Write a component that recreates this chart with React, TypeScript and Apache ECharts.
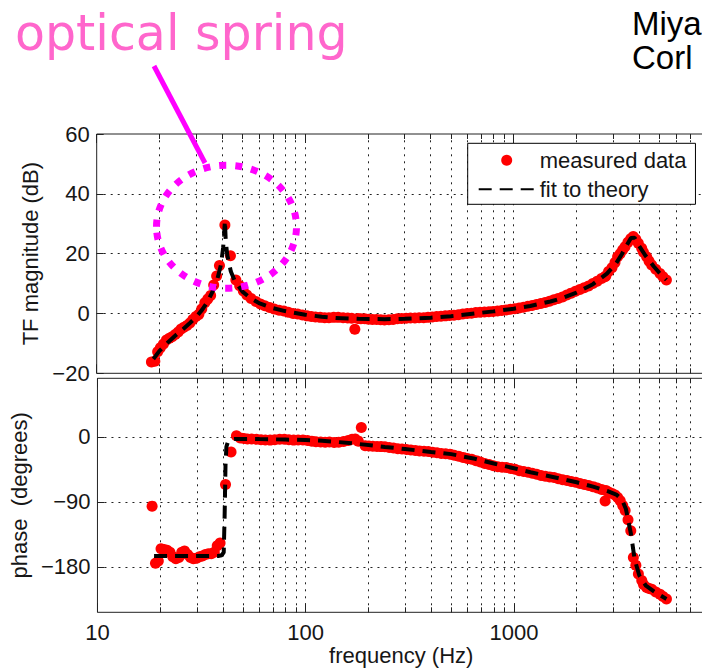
import React, { useEffect, useRef } from "react";
import * as echarts from "echarts";

// ---------------- data ----------------
const freqHz = [
  18.3, 19.0, 19.6, 20.2, 20.9, 21.6, 22.3, 23.0, 23.8, 24.6,
  25.4, 26.2, 27.1, 28.0, 28.9, 29.9, 30.9, 31.9, 33.0, 34.1,
  35.2, 36.4, 37.6, 38.8, 41.2, 43.8, 46.5, 48.5, 50.5, 52.5,
  55.0, 58.0, 61.0, 64.0, 67.5, 71.0, 75.0, 79.0, 83.0, 87.5,
  92, 97, 102, 107, 112, 118, 124, 130, 137, 144,
  152, 160, 167, 173, 179, 185, 193, 201, 210, 220,
  230, 240, 252, 264, 277, 290, 305, 320, 336, 352,
  370, 388, 407, 427, 448, 470, 493, 517, 543, 570,
  598, 627, 658, 690, 724, 760, 797, 836, 877, 920,
  965, 1012, 1062, 1114, 1169, 1226, 1286, 1349, 1415, 1485,
  1558, 1634, 1714, 1798, 1886, 1979, 2076, 2178, 2285, 2397,
  2514, 2637, 2740, 2766, 2850, 2960, 3060, 3150, 3240, 3330,
  3420, 3530, 3640, 3745, 3850, 3960, 4110, 4190, 4340, 4460,
  4590, 4800, 5030, 5200, 5400,
];
const magDb = [
  -16.2, -16.0, -12.8, -11.5, -10.2, -8.9, -8.3, -7.8, -7.0, -6.2,
  -5.2, -4.6, -4.0, -3.2, -2.0, -1.0, -0.3, 1.5, 3.6, 4.8,
  6.0, 9.5, 12.5, 16.0, 29.6, 19.3, 11.2, 9.3, 7.5, 6.2,
  5.0, 4.0, 3.2, 2.6, 2.0, 1.5, 1.1, 0.8, 0.4, 0.0,
  -0.2, -0.5, -0.8, -1.0, -1.2, -1.3, -1.4, -1.4, -1.3, -1.3,
  -1.4, -1.5, -1.6, -5.3, -1.7, -1.8, -1.8, -1.9, -2.0, -2.0,
  -2.1, -2.2, -2.1, -2.0, -1.8, -1.7, -1.6, -1.5, -1.5, -1.4,
  -1.4, -1.3, -1.2, -1.0, -0.9, -0.8, -0.7, -0.6, -0.4, -0.2,
  0.0, 0.1, 0.3, 0.4, 0.5, 0.6, 0.7, 0.8, 1.0, 1.2,
  1.4, 1.6, 1.8, 2.1, 2.4, 2.7, 3.0, 3.3, 3.7, 4.1,
  4.6, 5.0, 5.5, 6.2, 6.8, 7.4, 8.0, 8.6, 9.2, 10.0,
  10.8, 11.7, 12.3, 12.5, 14.0, 15.3, 17.0, 19.0, 20.0, 21.2,
  22.3, 23.8, 25.0, 25.7, 24.8, 23.5, 21.8, 20.5, 19.0, 17.5,
  16.2, 14.8, 13.4, 12.3, 11.2,
];
const phaseDeg = [
  -96, -175, -172, -155, -156, -157, -160, -166, -169, -167,
  -160, -158, -163, -167, -169, -168, -166, -165, -163, -162,
  -162, -160, -151, -147, -66, -21, 1.5, -1.5, -2.5, -3,
  -3.2, -3.5, -4.0, -4.5, -4.6, -4.0, -3.5, -3.5, -4.0, -4.6,
  -4.5, -4.5, -5.0, -6.0, -6.9, -7.2, -7.5, -7.3, -7.8, -7.5,
  -6.5, -5.0, -3.5, -3.2, -6.0, 12.9, -12.5, -12.8, -13.0, -13.5,
  -13.6, -13.8, -14.8, -15.5, -16.5, -17.0, -17.5, -18.2, -19.0, -19.5,
  -20.0, -20.5, -21.5, -22.0, -23.0, -23.5, -24.0, -25.5, -27.0, -28.5,
  -30.0, -31.0, -33.0, -35.0, -37.0, -38.5, -40.0, -41.5, -42.0, -42.5,
  -44.0, -45.0, -47.0, -48.0, -49.0, -50.5, -52.0, -53.5, -54.5, -55.5,
  -56.5, -58.0, -59.5, -60.5, -62.0, -63.0, -64.6, -66.0, -67.5, -69.0,
  -71.0, -73.0, -89.0, -74.5, -76.5, -78.5, -80.5, -84.0, -88.6, -95.0,
  -102, -115, -130, -167, -178, -190, -199, -204.5, -208.6, -210,
  -211, -215, -218, -221, -224.5,
];
const fitFreqHz = [
  18.7, 20, 22, 24, 26, 28, 30, 32, 34, 36,
  38, 39.5, 40.4, 40.8, 41.2, 41.6, 42.3, 44, 46, 50,
  55, 60, 70, 80, 100, 120, 140, 180, 240, 300,
  400, 500, 650, 800, 1000, 1200, 1500, 1700, 2000, 2400,
  2800, 3100, 3300, 3450, 3650, 3800, 4000, 4300, 4700, 5000,
  5400,
];
const fitMagDb = [
  -15.2, -12.5, -9.6, -7.2, -5.2, -3.2, -1.2, 1.2, 3.9, 7.4,
  11.8, 16.5, 22, 26, 31, 24, 19.5, 14, 10.8, 7.3,
  5, 3.5, 1.8, 0.8, -0.4, -1.1, -1.5, -1.8, -1.9, -1.8,
  -1.4, -0.9, 0, 0.7, 1.6, 2.5, 4.0, 5.1, 7.0, 9.8,
  13.3, 16.8, 19.8, 22.3, 25.2, 25.3, 22.5, 19.2, 15.7, 13.6,
  11.2,
];
const fitPhaseDeg = [
  -165, -165, -165, -165, -165, -165, -165, -165, -165, -165,
  -165, -164, -160, -110, -40, -14, -7, -3.5, -3, -3,
  -3, -3.2, -3.5, -3.8, -4.5, -5.5, -7, -10, -14, -17,
  -21, -24, -30.5, -37, -43.5, -49, -55, -58.5, -63, -69,
  -75, -80, -87, -100, -135, -170, -192, -206, -214, -219,
  -224.5,
];
const magTicks = [-20, 0, 20, 40, 60];
const phaseTicks = [-180, -90, 0];
const decadeTicks = [10, 100, 1000];
const minorFreqs = [
  20, 30, 40, 50, 60, 70, 80, 90,
  200, 300, 400, 500, 600, 700, 800, 900,
  2000, 3000, 4000, 5000, 6000, 7000, 8000,
];

// ---------------- layout ----------------
const FONT = "'Liberation Sans', Arial, Helvetica, sans-serif";
const LEFT = 96.7;
const PLOT_W = 608.3;
const DECADE_PX = 208.5;
const X_MIN = 10;
const X_MAX = 8270;
const TOP1 = 134;
const H1 = 239.3;
const TOP2 = 378.3;
const H2 = 234;
const MAG_MIN = -20;
const MAG_MAX = 60;
const PH_MIN = -243;
const PH_MAX = 81;

const fmt = (v: number) => (v < 0 ? "\u2212" + Math.abs(v) : String(v));

function decorations(yMin: number, yMax: number, plotH: number, hGrid: number[], yTicks: number[]) {
  const pxPerUnit = plotH / (yMax - yMin);
  const solid = { type: "solid" as const, width: 1, color: "#222" };
  const data: any[] = [];
  const vLines = [...minorFreqs, 100, 1000];
  vLines.forEach((f) => data.push({ xAxis: f }));
  hGrid.forEach((v) => data.push({ yAxis: v }));
  [...vLines, 10].forEach((f) => {
    const major = decadeTicks.includes(f);
    const dy = (major ? 9 : 5) / pxPerUnit;
    data.push([{ coord: [f, yMax], lineStyle: solid }, { coord: [f, yMax - dy] }]);
    data.push([{ coord: [f, yMin], lineStyle: solid }, { coord: [f, yMin + dy] }]);
  });
  const dx = X_MIN * Math.pow(10, 7 / DECADE_PX);
  yTicks.forEach((v) => data.push([{ coord: [X_MIN, v], lineStyle: solid }, { coord: [dx, v] }]));
  return data;
}

function helperSeries(idx: number, yMin: number, yMax: number, plotH: number, hGrid: number[], yTicks: number[]) {
  return {
    type: "line",
    xAxisIndex: idx,
    yAxisIndex: idx,
    data: [[X_MIN, yMin]],
    symbol: "none",
    lineStyle: { opacity: 0 },
    silent: true,
    z: 1,
    markLine: {
      silent: true,
      z: 1,
      symbol: ["none", "none"],
      label: { show: false },
      emphasis: { disabled: true },
      lineStyle: { type: [2, 5], color: "#222", width: 1 },
      data: decorations(yMin, yMax, plotH, hGrid, yTicks),
    },
  };
}

const axisText = { fontFamily: FONT, fontSize: 22, color: "#161616" };

function buildOption(): any {
  const measuredMag = freqHz.map((f, i) => [f, magDb[i]]);
  const measuredPhase = freqHz.map((f, i) => [f, phaseDeg[i]]);
  const fitMag = fitFreqHz.map((f, i) => [f, fitMagDb[i]]);
  const fitPhase = fitFreqHz.map((f, i) => [f, fitPhaseDeg[i]]);
  const dots = { color: "#ff0000", opacity: 1 };
  const dash = { color: "#000", width: 4, type: [13, 8] };
  const noSymbol = { color: "#000", opacity: 0 };

  return {
    animation: false,
    grid: [
      { left: LEFT, top: TOP1, width: PLOT_W, height: H1, show: true, borderColor: "#222", borderWidth: 1, backgroundColor: "#fff" },
      { left: LEFT, top: TOP2, width: PLOT_W, height: H2, show: true, borderColor: "#222", borderWidth: 1, backgroundColor: "#fff" },
    ],
    xAxis: [
      {
        type: "log", logBase: 10, gridIndex: 0, min: X_MIN, max: X_MAX,
        axisLine: { show: false }, axisTick: { show: false }, axisLabel: { show: false }, splitLine: { show: false },
      },
      {
        type: "log", logBase: 10, gridIndex: 1, min: X_MIN, max: X_MAX,
        axisLine: { show: false }, axisTick: { show: false }, splitLine: { show: false },
        axisLabel: {
          ...axisText, margin: 9, showMaxLabel: false,
          formatter: (v: number) => (decadeTicks.includes(Math.round(v)) ? String(Math.round(v)) : ""),
        },
        name: "frequency (Hz)", nameLocation: "middle", nameGap: 31, nameTextStyle: axisText,
      },
    ],
    yAxis: [
      {
        type: "value", gridIndex: 0, min: MAG_MIN, max: MAG_MAX, interval: 20,
        axisLine: { show: false }, axisTick: { show: false }, splitLine: { show: false },
        axisLabel: { ...axisText, margin: 7, formatter: (v: number) => (magTicks.includes(v) ? fmt(v) : "") },
        name: "TF magnitude (dB)", nameLocation: "middle", nameGap: 51, nameRotate: 90, nameTextStyle: axisText,
      },
      {
        type: "value", gridIndex: 1, min: PH_MIN, max: PH_MAX, interval: 9,
        axisLine: { show: false }, axisTick: { show: false }, splitLine: { show: false },
        axisLabel: { ...axisText, margin: 7, formatter: (v: number) => (phaseTicks.includes(v) ? fmt(v) : "") },
        name: "phase  (degrees)", nameLocation: "middle", nameGap: 62, nameRotate: 90, nameTextStyle: axisText,
      },
    ],
    legend: {
      data: ["measured data", { name: "fit to theory", itemStyle: { opacity: 0 } }],
      orient: "vertical",
      left: 467.7,
      top: 143.3,
      padding: [6, 9, 4, 10],
      itemWidth: 56,
      itemHeight: 11,
      itemGap: 7,
      backgroundColor: "#fff",
      borderColor: "#000",
      borderWidth: 1,
      borderRadius: 0,
      selectedMode: false,
      textStyle: { fontFamily: FONT, fontSize: 22, color: "#161616", lineHeight: 22 },
      z: 20,
    },
    series: [
      helperSeries(0, MAG_MIN, MAG_MAX, H1, [0, 20, 40], magTicks),
      helperSeries(1, PH_MIN, PH_MAX, H2, phaseTicks, phaseTicks),
      {
        name: "measured data", type: "scatter", xAxisIndex: 0, yAxisIndex: 0,
        data: measuredMag, symbol: "circle", symbolSize: 11, itemStyle: dots, z: 10, silent: true,
      },
      {
        name: "fit to theory", type: "line", xAxisIndex: 0, yAxisIndex: 0,
        data: fitMag, symbol: "none", showSymbol: false, lineStyle: dash, itemStyle: noSymbol, z: 11, silent: true,
      },
      {
        name: "measured data", type: "scatter", xAxisIndex: 1, yAxisIndex: 1,
        data: measuredPhase, symbol: "circle", symbolSize: 11, itemStyle: dots, z: 10, silent: true,
      },
      {
        name: "fit to theory", type: "line", xAxisIndex: 1, yAxisIndex: 1,
        data: fitPhase, symbol: "none", showSymbol: false, lineStyle: dash, itemStyle: noSymbol, z: 11, silent: true,
      },
    ],
    graphic: [
      {
        type: "text", x: 15, y: 9, z: 30, silent: true,
        style: { text: "optical spring", fontFamily: "'DejaVu Sans', sans-serif", fontSize: 49, fill: "#ff66cc" },
      },
      {
        type: "text", x: 632, y: 7, z: 30, silent: true,
        style: { text: "Miya", fontFamily: FONT, fontSize: 33, fill: "#000" },
      },
      {
        type: "text", x: 632, y: 41, z: 30, silent: true,
        style: { text: "Corl", fontFamily: FONT, fontSize: 33, fill: "#000" },
      },
      {
        type: "line", z: 30, silent: true,
        shape: { x1: 154, y1: 66, x2: 205, y2: 163 },
        style: { stroke: "#ff00ff", lineWidth: 5 },
      },
      {
        type: "ellipse", z: 30, silent: true,
        shape: { cx: 226.5, cy: 226.7, rx: 70, ry: 61.5 },
        style: { fill: "transparent", stroke: "#ff00ff", lineWidth: 7, lineDash: [7, 9] },
      },
    ],
  };
}

export default function App() {
  const ref = useRef<HTMLDivElement>(null);
  useEffect(() => {
    if (!ref.current) return;
    const chart = echarts.init(ref.current, undefined, { renderer: "svg" });
    chart.setOption(buildOption());
    return () => chart.dispose();
  }, []);
  return (
    <div style={{ position: "fixed", left: 0, top: 0, width: 702, height: 670, overflow: "hidden", background: "#fff" }}>
      <div ref={ref} style={{ width: 720, height: 670 }} />
    </div>
  );
}
